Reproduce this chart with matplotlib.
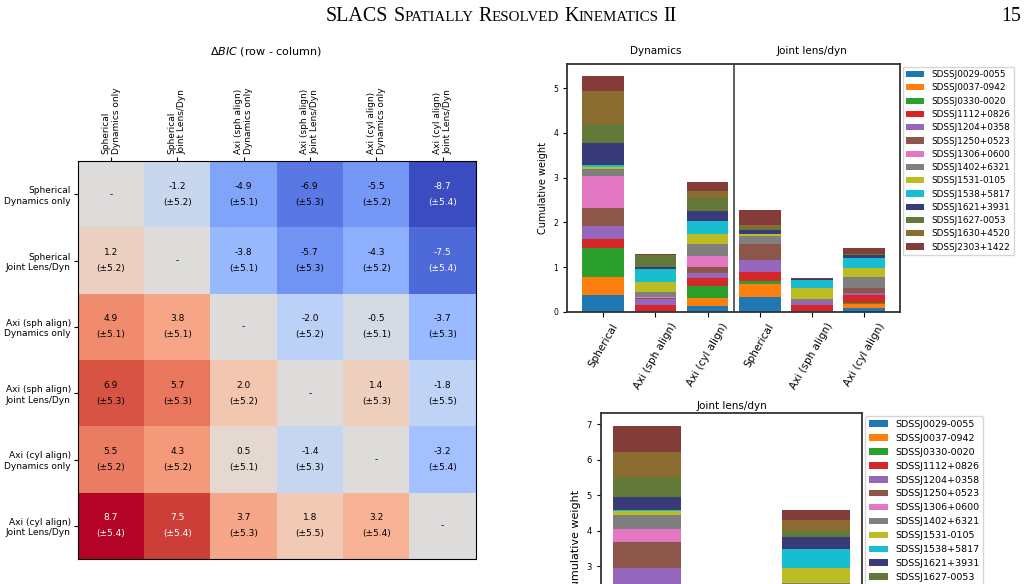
import numpy as np
import matplotlib
matplotlib.use('Agg')
import matplotlib.pyplot as plt

# Delta BIC (row - column) and its uncertainty
models = ['Spherical\nDynamics only', 'Spherical\nJoint Lens/Dyn',
          'Axi (sph align)\nDynamics only', 'Axi (sph align)\nJoint Lens/Dyn',
          'Axi (cyl align)\nDynamics only', 'Axi (cyl align)\nJoint Lens/Dyn']
dbic = [[0.0, -1.2, -4.9, -6.9, -5.5, -8.7],
        [1.2, 0.0, -3.8, -5.7, -4.3, -7.5],
        [4.9, 3.8, 0.0, -2.0, -0.5, -3.7],
        [6.9, 5.7, 2.0, 0.0, 1.4, -1.8],
        [5.5, 4.3, 0.5, -1.4, 0.0, -3.2],
        [8.7, 7.5, 3.7, 1.8, 3.2, 0.0]]
dbic_err = [[0.0, 5.2, 5.1, 5.3, 5.2, 5.4],
            [5.2, 0.0, 5.1, 5.3, 5.2, 5.4],
            [5.1, 5.1, 0.0, 5.2, 5.1, 5.3],
            [5.3, 5.3, 5.2, 0.0, 5.3, 5.5],
            [5.2, 5.2, 5.1, 5.3, 0.0, 5.4],
            [5.4, 5.4, 5.3, 5.5, 5.4, 0.0]]

lenses = ['SDSSJ0029-0055', 'SDSSJ0037-0942', 'SDSSJ0330-0020', 'SDSSJ1112+0826',
          'SDSSJ1204+0358', 'SDSSJ1250+0523', 'SDSSJ1306+0600', 'SDSSJ1402+6321',
          'SDSSJ1531-0105', 'SDSSJ1538+5817', 'SDSSJ1621+3931', 'SDSSJ1627-0053',
          'SDSSJ1630+4520', 'SDSSJ2303+1422']

# cumulative weight per lens, top panel
top_labels = ['Spherical', 'Axi (sph align)', 'Axi (cyl align)',
              'Spherical', 'Axi (sph align)', 'Axi (cyl align)']
dyn_sph = [0.37, 0.40, 0.66, 0.20, 0.29, 0.40, 0.72, 0.16, 0.04, 0.05, 0.49, 0.43, 0.72, 0.35]
dyn_axi_sph = [0.005, 0.0, 0.005, 0.14, 0.13, 0.02, 0.04, 0.09, 0.23, 0.29, 0.06, 0.25, 0.01, 0.02]
dyn_axi_cyl = [0.13, 0.18, 0.27, 0.17, 0.12, 0.13, 0.25, 0.27, 0.22, 0.29, 0.23, 0.29, 0.16, 0.20]
joint_sph = [0.33, 0.29, 0.07, 0.20, 0.27, 0.36, 0.0, 0.18, 0.04, 0.01, 0.08, 0.05, 0.06, 0.34]
joint_axi_sph = [0.01, 0.0, 0.0, 0.14, 0.09, 0.0, 0.0, 0.04, 0.25, 0.18, 0.03, 0.0, 0.0, 0.01]
joint_axi_cyl = [0.08, 0.09, 0.02, 0.18, 0.05, 0.11, 0.0, 0.25, 0.20, 0.22, 0.07, 0.02, 0.01, 0.13]

# bottom panel (joint lens/dyn)
bot_labels = ['Spherical', 'Axisymmetric']
bot_a = [0.55, 0.50, 0.74, 0.55, 0.60, 0.75, 0.37, 0.39, 0.09, 0.05, 0.37, 0.56, 0.70, 0.74]
bot_b = [0.36, 0.30, 0.25, 0.35, 0.30, 0.40, 0.25, 0.30, 0.45, 0.51, 0.34, 0.19, 0.31, 0.28]

tab10 = plt.get_cmap('tab10').colors
tab20b = plt.get_cmap('tab20b').colors
colors = list(tab10) + [tab20b[0], tab20b[4], tab20b[8], tab20b[12]]

W, H = 1027, 584
fig = plt.figure(figsize=(W / 100, H / 100), dpi=100)


def px(x, y):
    return x / W, 1 - y / H


# page header in small caps
r = fig.canvas.get_renderer()
big, small = 14.4, 10.8
parts = [('SLACS', big), (' ', big), ('S', big), ('PATIALLY', small), (' ', big),
         ('R', big), ('ESOLVED', small), (' ', big), ('K', big), ('INEMATICS', small),
         (' ', big), ('II', big)]
xc = 326
for s, size in parts:
    if s == ' ':
        xc += 0.25 * size * 100 / 72
        continue
    t = fig.text(*px(xc, 21), s, fontsize=size, family='Liberation Serif',
                 ha='left', va='baseline')
    xc += t.get_window_extent(r).width
fig.text(*px(1021, 21), '15', fontsize=big, family='Liberation Serif',
         ha='right', va='baseline')

# heatmap
ax = fig.add_axes([77.7 / W, 1 - 559 / H, 398 / W, 398 / H])
m = np.array(dbic)
ax.imshow(m, cmap='coolwarm', vmin=-8.7, vmax=8.7, aspect='auto')
ax.xaxis.tick_top()
ax.set_xticks(range(6))
ax.set_xticklabels(models, rotation=90, fontsize=6.5, multialignment='left')
ax.set_yticks(range(6))
ax.set_yticklabels(models, fontsize=6.5)
ax.tick_params(length=3, width=0.8, pad=2)
for i in range(6):
    for j in range(6):
        if i == j:
            ax.text(j, i, '-', ha='center', va='center', fontsize=6.5)
        else:
            c = 'white' if abs(m[i, j]) > 7 else 'black'
            ax.text(j, i, f'{m[i, j]:.1f}\n(±{dbic_err[i][j]:.1f})', ha='center',
                    va='center', fontsize=6.5, color=c, linespacing=2.0)
fig.text(*px(266, 52), r'$\Delta BIC$ (row - column)', ha='center', va='center', fontsize=8)

# top bar chart
ax2 = fig.add_axes([567.3 / W, 1 - 311.7 / H, 332.7 / W, 247.7 / H])
bars = [dyn_sph, dyn_axi_sph, dyn_axi_cyl, joint_sph, joint_axi_sph, joint_axi_cyl]
x = np.arange(len(bars))
base = np.zeros(len(bars))
for k in range(len(lenses)):
    vals = np.array([b[k] for b in bars])
    ax2.bar(x, vals, 0.8, bottom=base, color=colors[k], label=lenses[k])
    base += vals
ax2.axvline(2.5, color='#444444', lw=1.2)
ax2.set_xticks(x)
ax2.set_xticklabels(top_labels, rotation=60, fontsize=7.5)
ax2.tick_params(axis='y', labelsize=5.5, length=3)
ax2.tick_params(axis='x', length=3.5)
ax2.set_ylabel('Cumulative weight', fontsize=7)
ax2.text(1, 1.0525, 'Dynamics', transform=ax2.get_xaxis_transform(), ha='center',
         va='center', fontsize=7.5)
ax2.text(4, 1.0525, 'Joint lens/dyn', transform=ax2.get_xaxis_transform(), ha='center',
         va='center', fontsize=7.5)
for sp in ax2.spines.values():
    sp.set_linewidth(1.3)
    sp.set_color('#333333')
ax2.legend(loc='upper left', bbox_to_anchor=(1.0, 1.0), fontsize=6.4, borderaxespad=0.3,
           labelspacing=0.48)

# bottom bar chart, runs off the page
ax3 = fig.add_axes([601 / W, 1 - 672.5 / H, 261 / W, 259.2 / H])
bars_b = [bot_a, bot_b]
xb = np.arange(len(bars_b))
base = np.zeros(len(bars_b))
for k in range(len(lenses)):
    vals = np.array([b[k] for b in bars_b])
    ax3.bar(xb, vals, 0.4, bottom=base, color=colors[k], label=lenses[k])
    base += vals
ax3.set_xticks(xb)
ax3.set_xticklabels(bot_labels, rotation=60, fontsize=7.5)
ax3.tick_params(axis='y', labelsize=6, length=3)
ax3.set_ylabel('Cumulative weight', fontsize=8)
ax3.set_title('Joint lens/dyn', fontsize=7.5, pad=3)
for sp in ax3.spines.values():
    sp.set_linewidth(1.3)
    sp.set_color('#333333')
ax3.legend(loc='upper left', bbox_to_anchor=(1.0, 1.0), fontsize=6.8, borderaxespad=0.3,
           labelspacing=0.52)

fig.savefig('out.png', dpi=100)
